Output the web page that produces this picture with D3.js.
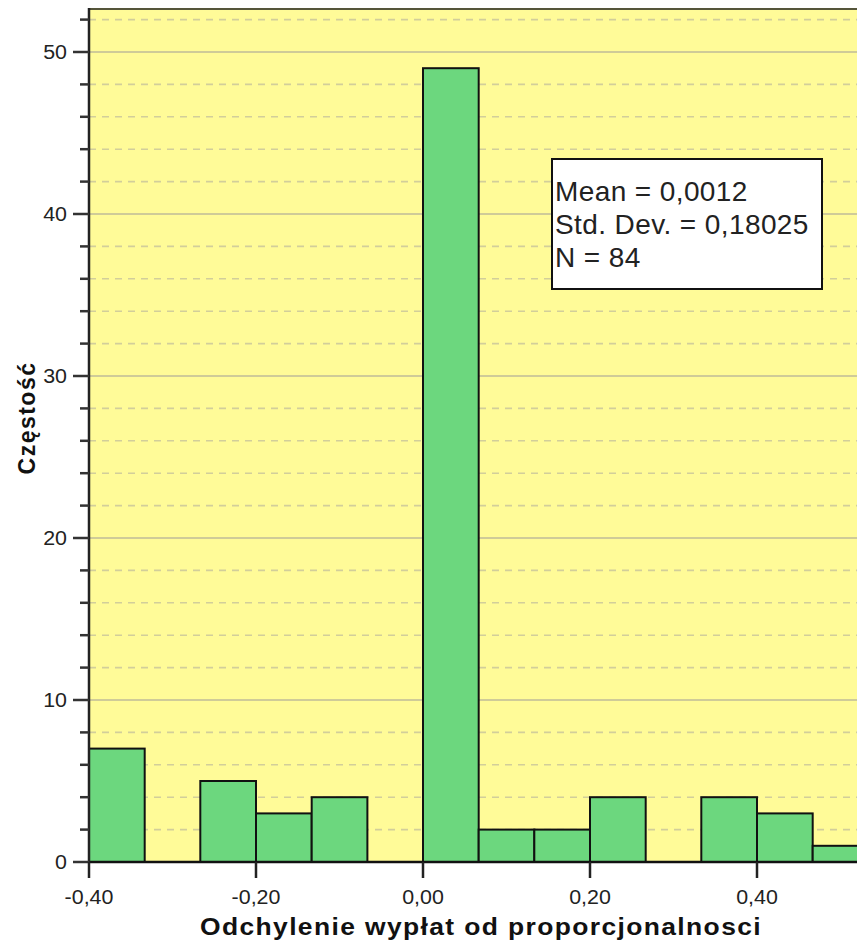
<!DOCTYPE html>
<html>
<head>
<meta charset="utf-8">
<script src="https://cdn.jsdelivr.net/npm/d3@7"></script>
<style>
  html, body { margin: 0; padding: 0; background: #fff; }
  svg { display: block; }
</style>
</head>
<body>
<svg id="chart" width="857" height="945"></svg>
<script>
// ---- data ----
const binStarts = [-0.4, -0.3333, -0.2667, -0.2, -0.1333, -0.0667, 0, 0.0667, 0.1333, 0.2, 0.2667, 0.3333, 0.4, 0.4667];
const binWidth = 0.0667;
const counts = [7, 0, 5, 3, 4, 0, 49, 2, 2, 4, 0, 4, 3, 1];
const xTickValues = [-0.4, -0.2, 0, 0.2, 0.4];
const xTickLabels = ["-0,40", "-0,20", "0,00", "0,20", "0,40"];
const yTickValues = [0, 10, 20, 30, 40, 50];
const yTickLabels = ["0", "10", "20", "30", "40", "50"];
const yMinorValues = [2, 4, 6, 8, 12, 14, 16, 18, 22, 24, 26, 28, 32, 34, 36, 38, 42, 44, 46, 48, 52];
const statsLines = ["Mean = 0,0012", "Std. Dev. = 0,18025", "N = 84"];
const xTitle = "Odchylenie wypłat od proporcjonalnosci";
const yTitle = "Częstość";

(function () {
// ---- layout ----
const pL = 89, pT = 9, pB = 862, pR = 857;
const svg = d3.select("#chart");

const x = d3.scaleLinear().domain([-0.4, 0.4]).range([89, 757]);
const y = d3.scaleLinear().domain([0, 50]).range([pB, 52]);

const bgYellow = "#FFFB98";
const green = "#6CD77E";
const font = "Liberation Sans, Arial, sans-serif";

// plot background
svg.append("rect").attr("x", pL).attr("y", pT).attr("width", pR - pL).attr("height", pB - pT)
  .attr("fill", bgYellow);

// minor dashed gridlines
svg.append("g").selectAll("line").data(yMinorValues).join("line")
  .attr("x1", pL).attr("x2", pR)
  .attr("y1", d => y(d)).attr("y2", d => y(d))
  .attr("stroke", "#D2CE9A").attr("stroke-width", 1.6)
  .attr("stroke-dasharray", "7,6");

// major solid gridlines
svg.append("g").selectAll("line").data(yTickValues.filter(d => d > 0)).join("line")
  .attr("x1", pL).attr("x2", pR)
  .attr("y1", d => y(d)).attr("y2", d => y(d))
  .attr("stroke", "#CFCB98").attr("stroke-width", 2);

// top border
svg.append("line").attr("x1", pL).attr("x2", pR).attr("y1", pT).attr("y2", pT)
  .attr("stroke", "#55553a").attr("stroke-width", 2.2);

// bars
const bins = binStarts.map((s, i) => ({ s, c: counts[i] }));
svg.append("g").selectAll("rect").data(bins.filter(d => d.c > 0)).join("rect")
  .attr("x", d => x(d.s))
  .attr("y", d => y(d.c))
  .attr("width", d => x(d.s + binWidth) - x(d.s))
  .attr("height", d => y(0) - y(d.c))
  .attr("fill", green)
  .attr("stroke", "#111").attr("stroke-width", 2);

// baseline (zero-height bins)
svg.append("line").attr("x1", pL).attr("x2", pR).attr("y1", y(0)).attr("y2", y(0))
  .attr("stroke", "#111").attr("stroke-width", 2.5);

// left axis line
svg.append("line").attr("x1", pL).attr("x2", pL).attr("y1", pT - 1).attr("y2", pB)
  .attr("stroke", "#222").attr("stroke-width", 2.5);

// y ticks
svg.append("g").selectAll("line").data(yTickValues).join("line")
  .attr("x1", pL - 16).attr("x2", pL)
  .attr("y1", d => y(d)).attr("y2", d => y(d))
  .attr("stroke", "#333").attr("stroke-width", 2.5);
svg.append("g").selectAll("line").data(yMinorValues).join("line")
  .attr("x1", pL - 9).attr("x2", pL)
  .attr("y1", d => y(d)).attr("y2", d => y(d))
  .attr("stroke", "#333").attr("stroke-width", 2.5);
svg.append("g").selectAll("text").data(yTickValues).join("text")
  .attr("transform", d => `translate(67,${y(d) + 7}) scale(1.07,1)`)
  .attr("text-anchor", "end")
  .attr("font-family", font)
  .attr("font-size", 20).attr("fill", "#222")
  .text((d, i) => yTickLabels[i]);

// x ticks
svg.append("g").selectAll("line").data(xTickValues).join("line")
  .attr("x1", d => x(d)).attr("x2", d => x(d))
  .attr("y1", pB).attr("y2", pB + 16)
  .attr("stroke", "#222").attr("stroke-width", 2.5);
svg.append("g").selectAll("text").data(xTickValues).join("text")
  .attr("transform", d => `translate(${x(d)},904) scale(1.07,1)`)
  .attr("text-anchor", "middle")
  .attr("font-family", font)
  .attr("font-size", 20).attr("fill", "#222")
  .text((d, i) => xTickLabels[i]);

// axis titles
svg.append("text")
  .attr("transform", "translate(481,935) scale(1.15,1)")
  .attr("text-anchor", "middle")
  .attr("font-family", font)
  .attr("font-weight", "bold").attr("font-size", 23)
  .attr("letter-spacing", 1.2)
  .attr("fill", "#111")
  .text(xTitle);

svg.append("text")
  .attr("transform", "translate(35,418) rotate(-90)")
  .attr("text-anchor", "middle")
  .attr("font-family", font)
  .attr("font-weight", "bold").attr("font-size", 23)
  .attr("letter-spacing", 1.5)
  .attr("fill", "#111")
  .text(yTitle);

// stats box
svg.append("rect").attr("x", 552).attr("y", 159).attr("width", 270).attr("height", 130)
  .attr("fill", "#fff").attr("stroke", "#111").attr("stroke-width", 2);
svg.append("g").selectAll("text").data(statsLines).join("text")
  .attr("x", 555).attr("y", (d, i) => 201 + i * 33)
  .attr("font-family", font)
  .attr("font-size", 28).attr("letter-spacing", 0.4).attr("fill", "#222")
  .text(d => d);
})();
</script>
</body>
</html>
